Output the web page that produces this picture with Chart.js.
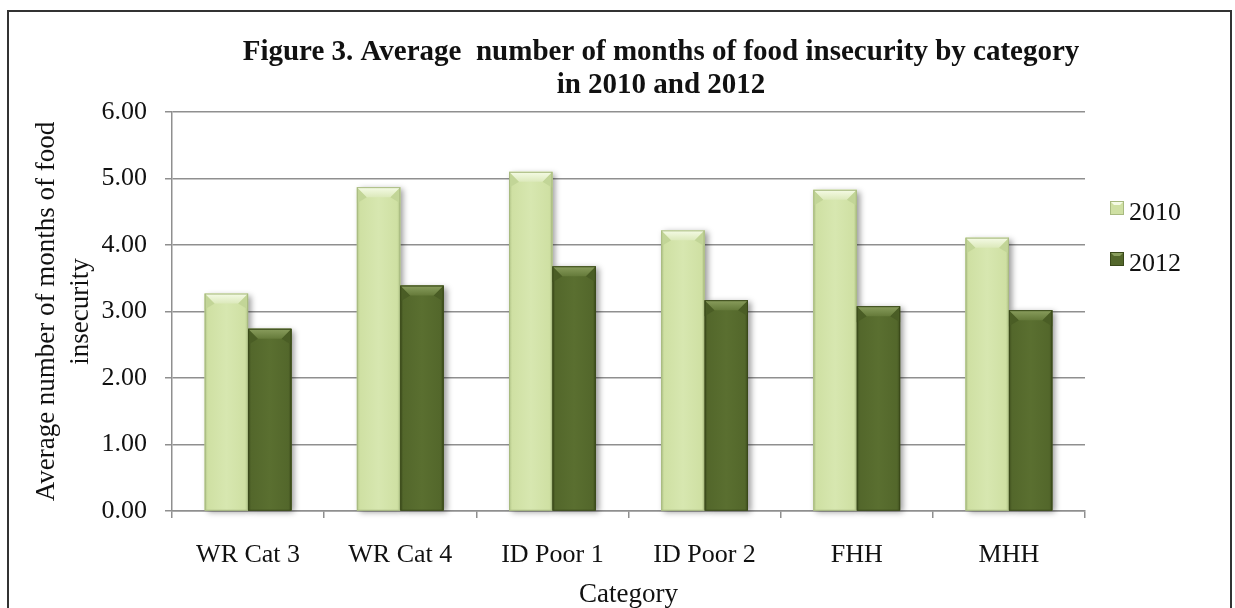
<!DOCTYPE html>
<html>
<head>
<meta charset="utf-8">
<title>Figure 3</title>
<script src="https://cdn.jsdelivr.net/npm/chart.js@4.4.1/dist/chart.umd.min.js"></script>
<style>
  html, body { margin: 0; padding: 0; background: #ffffff; }
  #wrap { position: relative; width: 1235px; height: 608px; }
</style>
</head>
<body>
<div id="wrap"><canvas id="chart" width="1235" height="608"></canvas></div>
<script>
// Categories and series (average months of food insecurity)
const categories = ['WR Cat 3', 'WR Cat 4', 'ID Poor 1', 'ID Poor 2', 'FHH', 'MHH'];
const values2010 = [3.27, 4.87, 5.10, 4.22, 4.83, 4.11];
const values2012 = [2.74, 3.39, 3.68, 3.17, 3.08, 3.02];
const seriesLabels = ['2010', '2012'];
const titleLines = ['Figure 3. Average  number of months of food insecurity by category', 'in 2010 and 2012'];
const yTitleLines = ['Average number of months of food', 'insecurity'];
const xTitle = 'Category';
const yMin = 0, yMax = 6, yStep = 1;

const SERIF = '"Liberation Serif", "Times New Roman", Times, serif';

// Shading for the bevelled bars
const palettes = [
  { body: '#cfe0a3', mid: '#d7e7b0', edge: '#b1c487', bevTop: '#f5fbe6', bevBot: '#dce9bb', side: '#c2d597', outline: '#a8ba80' },
  { body: '#53672b', mid: '#5a6f30', edge: '#3e4e1d', bevTop: '#8a9e5e', bevBot: '#657a3a', side: '#4a5d25', outline: '#3a491a' }
];

function drawBevelBar(ctx, x0, x1, top, bottom, pal) {
  const w = x1 - x0;
  const b = Math.min(10, w / 4, (bottom - top) / 2);
  const g = ctx.createLinearGradient(x0, 0, x1, 0);
  g.addColorStop(0, pal.edge);
  g.addColorStop(0.07, pal.body);
  g.addColorStop(0.5, pal.mid);
  g.addColorStop(0.93, pal.body);
  g.addColorStop(1, pal.edge);
  ctx.fillStyle = g;
  ctx.fillRect(x0, top, w, bottom - top);

  // side facets at the top corners
  ctx.fillStyle = pal.side;
  ctx.beginPath();
  ctx.moveTo(x0, top); ctx.lineTo(x0 + b, top + b); ctx.lineTo(x0, top + b * 1.6); ctx.closePath();
  ctx.fill();
  ctx.beginPath();
  ctx.moveTo(x1, top); ctx.lineTo(x1 - b, top + b); ctx.lineTo(x1, top + b * 1.6); ctx.closePath();
  ctx.fill();

  // top facet
  const tg = ctx.createLinearGradient(0, top, 0, top + b);
  tg.addColorStop(0, pal.bevTop);
  tg.addColorStop(1, pal.bevBot);
  ctx.fillStyle = tg;
  ctx.beginPath();
  ctx.moveTo(x0, top); ctx.lineTo(x1, top); ctx.lineTo(x1 - b, top + b); ctx.lineTo(x0 + b, top + b); ctx.closePath();
  ctx.fill();

  ctx.strokeStyle = pal.outline;
  ctx.lineWidth = 1;
  ctx.strokeRect(x0 + 0.5, top + 0.5, w - 1, bottom - top - 0.5);
}

const bevelBars = {
  id: 'bevelBars',
  beforeDatasetsDraw(chart) {
    const ctx = chart.ctx;
    ctx.save();
    ctx.shadowColor = 'rgba(0,0,0,0.40)';
    ctx.shadowBlur = 6;
    ctx.shadowOffsetX = 3;
    ctx.shadowOffsetY = 2;
    chart.data.datasets.forEach((ds, i) => {
      chart.getDatasetMeta(i).data.forEach(el => {
        const p = el.getProps(['x', 'y', 'base', 'width'], true);
        ctx.fillStyle = palettes[i].body;
        ctx.fillRect(p.x - p.width / 2, p.y, p.width, p.base - p.y);
      });
    });
    ctx.restore();
  },
  afterDatasetsDraw(chart) {
    const ctx = chart.ctx;
    ctx.save();
    chart.data.datasets.forEach((ds, i) => {
      chart.getDatasetMeta(i).data.forEach(el => {
        const p = el.getProps(['x', 'y', 'base', 'width'], true);
        drawBevelBar(ctx, p.x - p.width / 2, p.x + p.width / 2, p.y, p.base, palettes[i]);
      });
    });
    ctx.restore();
  }
};

// Frame, heading and legend
const decorations = {
  id: 'decorations',
  afterDraw(chart) {
    const ctx = chart.ctx;
    ctx.save();
    ctx.strokeStyle = '#333333';
    ctx.lineWidth = 2;
    ctx.strokeRect(8, 11, 1223, 620);

    ctx.fillStyle = '#111111';
    ctx.font = 'bold 29px ' + SERIF;
    ctx.textAlign = 'center';
    ctx.textBaseline = 'alphabetic';
    ctx.fillText(titleLines[0], 661, 60);
    ctx.fillText(titleLines[1], 661, 93);

    ctx.font = '26px ' + SERIF;
    ctx.textAlign = 'left';
    chart.data.datasets.forEach((ds, i) => {
      const by = 201 + i * 51;
      const pal = palettes[i];
      const bx = 1110, s = 14;
      ctx.fillStyle = pal.body;
      ctx.fillRect(bx, by, s, s);
      ctx.fillStyle = pal.bevTop;
      ctx.beginPath();
      ctx.moveTo(bx, by); ctx.lineTo(bx + s, by); ctx.lineTo(bx + s - 4, by + 4); ctx.lineTo(bx + 4, by + 4); ctx.closePath();
      ctx.fill();
      ctx.strokeStyle = pal.outline;
      ctx.lineWidth = 1;
      ctx.strokeRect(bx + 0.5, by + 0.5, s - 1, s - 1);
      ctx.fillStyle = '#111111';
      ctx.fillText(ds.label, 1129, by + 19);
    });
    ctx.restore();
  }
};

const AXIS_GRAY = '#8f8f8f';

new Chart(document.getElementById('chart'), {
  type: 'bar',
  data: {
    labels: categories,
    datasets: [
      { label: seriesLabels[0], data: values2010, backgroundColor: palettes[0].body, borderWidth: 0 },
      { label: seriesLabels[1], data: values2012, backgroundColor: palettes[1].body, borderWidth: 0 }
    ]
  },
  options: {
    responsive: false,
    animation: false,
    layout: { padding: { top: 112, right: 150, bottom: 0, left: 0 } },
    datasets: { bar: { categoryPercentage: 0.57, barPercentage: 1.0 } },
    plugins: {
      legend: { display: false },
      title: { display: false },
      tooltip: { enabled: false }
    },
    scales: {
      x: {
        afterFit(scale) { scale.height = 97; },
        grid: { display: true, drawOnChartArea: false, drawTicks: true, tickLength: 7, color: AXIS_GRAY, lineWidth: 1.5, offset: true },
        border: { display: true, color: AXIS_GRAY, width: 1.5 },
        ticks: { color: '#111111', font: { family: SERIF, size: 26 }, padding: 22, maxRotation: 0, autoSkip: false },
        title: { display: true, text: xTitle, color: '#111111', font: { family: SERIF, size: 27, lineHeight: 1.0 }, padding: { top: 0, bottom: 0 } }
      },
      y: {
        min: yMin,
        max: yMax,
        afterFit(scale) { scale.width = 172; },
        grid: { display: true, drawTicks: true, tickLength: 7, color: AXIS_GRAY, lineWidth: 1.5 },
        border: { display: true, color: AXIS_GRAY, width: 1.5 },
        ticks: {
          stepSize: yStep,
          color: '#111111',
          font: { family: SERIF, size: 26 },
          padding: 18,
          callback: v => Number(v).toFixed(2)
        },
        title: {
          display: true,
          text: yTitleLines,
          color: '#111111',
          font: { family: SERIF, size: 27, lineHeight: 1.25 },
          padding: { top: 30, bottom: 0 }
        }
      }
    }
  },
  plugins: [bevelBars, decorations]
});
</script>
</body>
</html>
